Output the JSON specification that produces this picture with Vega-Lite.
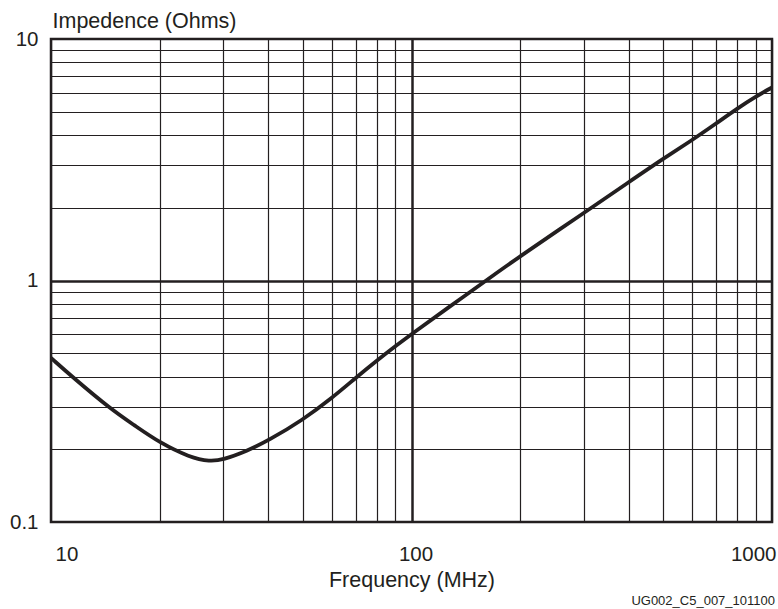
{
  "$schema": "https://vega.github.io/schema/vega-lite/v6.json",
  "width": 721,
  "height": 483,
  "autosize": {"type": "none"},
  "padding": {"left": 51, "top": 39, "right": 6, "bottom": 87},
  "background": "white",
  "config": {
    "font": "Liberation Sans",
    "view": {"stroke": "#231f20", "strokeWidth": 2.5},
    "axis": {
      "labelFont": "Liberation Sans",
      "titleFont": "Liberation Sans",
      "labelColor": "#231f20",
      "titleColor": "#231f20",
      "labelFontSize": 20.5,
      "titleFontSize": 21.5,
      "titleFontWeight": "normal",
      "domain": false,
      "ticks": false,
      "tickSize": 0,
      "gridColor": "#231f20",
      "gridOpacity": 1,
      "labelOverlap": false
    }
  },
  "title": {
    "text": "UG002_C5_007_101100",
    "orient": "bottom",
    "anchor": "end",
    "frame": "group",
    "fontSize": 13,
    "fontWeight": "normal",
    "font": "Liberation Sans",
    "color": "#231f20",
    "offset": 4,
    "dx": 3
  },
  "data": {
    "values": [
      {"f": 10, "z": 0.478},
      {"f": 11.5, "z": 0.397},
      {"f": 14.7, "z": 0.292},
      {"f": 17, "z": 0.252},
      {"f": 20, "z": 0.213},
      {"f": 24.3, "z": 0.185},
      {"f": 27.6, "z": 0.178},
      {"f": 30, "z": 0.181},
      {"f": 35, "z": 0.197},
      {"f": 40, "z": 0.217},
      {"f": 50, "z": 0.265},
      {"f": 60, "z": 0.325},
      {"f": 70, "z": 0.395},
      {"f": 80, "z": 0.465},
      {"f": 90, "z": 0.533},
      {"f": 100, "z": 0.6},
      {"f": 125, "z": 0.763},
      {"f": 161, "z": 1.0},
      {"f": 200, "z": 1.26},
      {"f": 300, "z": 1.9},
      {"f": 400, "z": 2.55},
      {"f": 500, "z": 3.2},
      {"f": 600, "z": 3.81},
      {"f": 700, "z": 4.47},
      {"f": 800, "z": 5.15},
      {"f": 900, "z": 5.77},
      {"f": 1000, "z": 6.3}
    ]
  },
  "mark": {"type": "line", "color": "#231f20", "strokeWidth": 3.8, "interpolate": "basis", "clip": true},
  "encoding": {
    "x": {
      "field": "f",
      "type": "quantitative",
      "scale": {"type": "log", "domain": [10, 1000], "nice": false},
      "axis": {
        "title": "Frequency (MHz)",
        "values": [10, 20, 30, 40, 50, 60, 70, 80, 90, 100, 200, 300, 400, 500, 600, 700, 800, 900, 1000],
        "labelExpr": "datum.value == 10 ? '10' : datum.value == 100 ? '100' : datum.value == 1000 ? '1000' : ''",
        "labelFlush": true,
        "labelOffset": 4,
        "labelPadding": 22,
        "titlePadding": 5,
        "gridWidth": {"condition": {"test": "datum.value == 100", "value": 2.5}, "value": 1.2}
      }
    },
    "y": {
      "field": "z",
      "type": "quantitative",
      "scale": {"type": "log", "domain": [0.1, 10], "nice": false},
      "axis": {
        "title": "Impedence (Ohms)",
        "titleAngle": 0,
        "titleAlign": "left",
        "titleBaseline": "alphabetic",
        "titleX": 1,
        "titleY": -12,
        "values": [0.1, 0.2, 0.3, 0.4, 0.5, 0.6, 0.7, 0.8, 0.9, 1, 2, 3, 4, 5, 6, 7, 8, 9, 10],
        "labelExpr": "datum.value == 0.1 ? '0.1' : datum.value == 1 ? '1' : datum.value == 10 ? '10' : ''",
        "labelFlush": false,
        "labelPadding": 13,
        "gridWidth": {"condition": {"test": "datum.value == 1", "value": 2.5}, "value": 1.2}
      }
    }
  }
}
